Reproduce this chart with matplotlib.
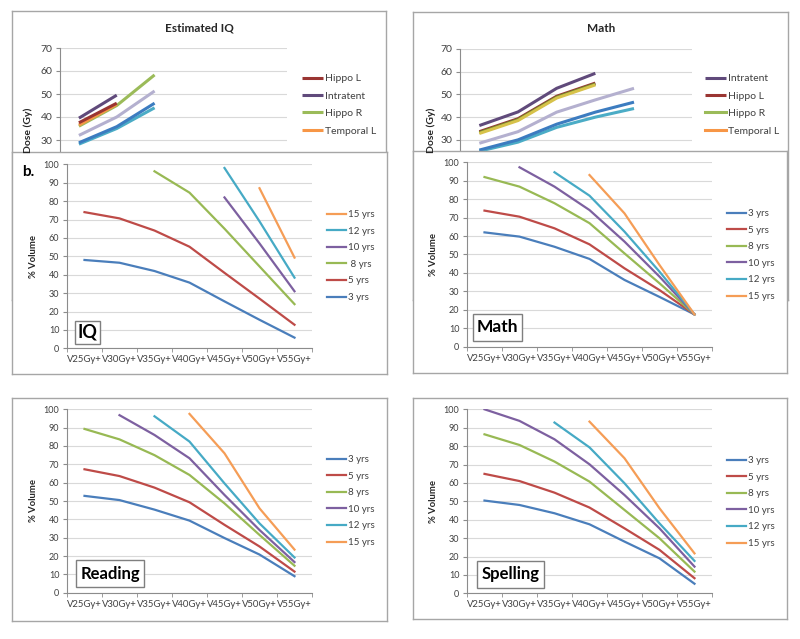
import matplotlib
matplotlib.use('Agg')
import matplotlib.pyplot as plt
import matplotlib.patches as patches
from matplotlib.lines import Line2D
import numpy as np

plt.rcParams['font.family'] = ['Lato', 'DejaVu Sans']

W, H = 800, 639

# ---- top charts: dose (Gy), six hidden categories ----
dose_cats = [0, 1, 2, 3, 4, 5]
iq_hippo_l = [37.5, 46, None, None, None, None]
iq_intratent = [39.5, 49.5, None, None, None, None]
iq_hippo_r = [36, 45, 58.3, None, None, None]
iq_temporal_l = [36.5, 45.5, None, None, None, None]
iq_lavender = [32, 40, 51.3, None, None, None]
iq_blue = [28.8, 35.8, 46, None, None, None]
iq_cyan = [28.2, 35, 44, None, None, None]

math_intratent = [36.3, 42.3, 52.7, 59.3, None, None]
math_hippo_l = [33.6, 39.3, 49.2, 55, None, None]
math_hippo_r = [33.2, 38.9, 48.8, 54.6, None, None]
math_temporal_l = [32.8, 38.5, 48.4, 54.2, None, None]
math_lavender = [28.5, 33.6, 42.2, 47.6, 52.7, None]
math_blue = [25.5, 30, 36.9, 42.2, 46.6, None]
math_cyan = [25, 29, 35.5, 40, 43.8, None]

# ---- % volume charts ----
vol_cats = ['V25Gy+', 'V30Gy+', 'V35Gy+', 'V40Gy+', 'V45Gy+', 'V50Gy+', 'V55Gy+']
ages = ['3 yrs', '5 yrs', '8 yrs', '10 yrs', '12 yrs', '15 yrs']
age_labels_iq = ['3 yrs', '5 yrs', ' 8 yrs', '10 yrs', '12 yrs', '15 yrs']

iq_vol = [
    [48, 46.5, 42, 35.7, 25.5, 15.5, 5.8],
    [74, 70.6, 64, 55.2, 41, 27, 12.8],
    [None, None, 96.2, 84.6, 65, 44.5, 24],
    [None, None, None, None, 82, 57, 31],
    [None, None, None, None, 98, 69, 38.4],
    [None, None, None, None, None, 87, 49.3],
]
math_vol = [
    [62, 59.7, 54.2, 47.6, 36.2, 27, 17.5],
    [73.8, 70.5, 64.2, 55.5, 42.5, 30.7, 17.5],
    [92, 86.8, 77.8, 67, 50.6, 34.4, 17.5],
    [None, 97.3, 86.8, 74.1, 57, 38, 17.5],
    [None, None, 94.6, 81.9, 62.4, 40.7, 17.5],
    [None, None, None, 93.1, 72.3, 44.3, 17.5],
]
reading_vol = [
    [52.8, 50.5, 45.3, 39.3, 29.8, 20.8, 9],
    [67.3, 63.6, 57.3, 49.3, 37, 25.2, 11.5],
    [89.3, 83.6, 75, 64.2, 48.7, 31.5, 14.7],
    [None, 96.8, 86, 73.3, 53.3, 34.2, 16.7],
    [None, None, 96.2, 82.4, 59.6, 37.8, 19.2],
    [None, None, None, 97.5, 76, 46, 23.5],
]
spelling_vol = [
    [50.4, 48, 43.5, 37.5, 28.1, 19, 5.2],
    [64.9, 61, 54.7, 46.6, 35.3, 23.6, 8.2],
    [86.4, 80.6, 71.6, 60.7, 45.3, 29.9, 11.8],
    [100, 93.7, 83.7, 70.1, 53.4, 35.3, 14.5],
    [None, None, 92.8, 79.3, 59.8, 38, 17.6],
    [None, None, None, 93.3, 73.4, 46.2, 21.7],
]

age_colors = ['#4A7EBB', '#BE4B48', '#98B954', '#7D60A0', '#46AAC5', '#F59D56']
GRAY = '#A6A6A6'
TXT = '#404040'


def fr(x0, y0, x1, y1):
    return [x0 / W, 1 - y1 / H, (x1 - x0) / W, (y1 - y0) / H]


def arr(v):
    return np.array(v, dtype=float)


fig = plt.figure(figsize=(W / 100, H / 100), dpi=100)
fig.patch.set_facecolor('white')


def panel_box(rect, z):
    b = fig.add_axes(fr(*rect), zorder=z)
    b.set_xticks([])
    b.set_yticks([])
    for s in b.spines.values():
        s.set_color(GRAY)
        s.set_linewidth(1.0)
    return b


def style_axes(ax, ymax, ticks, fs):
    ax.set_facecolor('none')
    ax.set_ylim(0, ymax)
    ax.set_yticks(ticks)
    ax.grid(axis='y', color='#D9D9D9', linewidth=0.8)
    ax.set_axisbelow(True)
    for s in ['top', 'right']:
        ax.spines[s].set_visible(False)
    for s in ['left', 'bottom']:
        ax.spines[s].set_color('#8C8C8C')
        ax.spines[s].set_linewidth(0.8)
    ax.tick_params(axis='y', length=3, color='#8C8C8C', labelsize=fs, labelcolor=TXT, pad=2.5)


def add_legend(ax, handles, labels, x, y, fs):
    ax.legend(handles, labels, loc='upper left', bbox_to_anchor=(x / W, 1 - y / H),
              bbox_transform=fig.transFigure, frameon=False, fontsize=fs,
              handlelength=2.0, handletextpad=0.2, borderpad=0, borderaxespad=0,
              labelspacing=0.78, labelcolor=TXT)


# ---------------- top-left: Estimated IQ ----------------
panel_box((12, 11, 386, 300), 0)
ax = fig.add_axes(fr(60, 48, 287, 209), zorder=1)
style_axes(ax, 70, [30, 40, 50, 60, 70], 7.5)
ax.set_xlim(-0.5, 5.5)
ax.set_xticks([])
top_iq = [(iq_cyan, '#4BACC6', None), (iq_blue, '#3C7CC0', None),
          (iq_lavender, '#B4B0CF', None), (iq_hippo_r, '#9BBB59', 'Hippo R'),
          (iq_temporal_l, '#F79646', 'Temporal L'), (iq_hippo_l, '#9A3532', 'Hippo L'),
          (iq_intratent, '#604A7B', 'Intratent')]
hd = {}
for vals, col, lab in top_iq:
    ln, = ax.plot(dose_cats, arr(vals), color=col, lw=2.2, solid_capstyle='butt')
    if lab:
        hd[lab] = ln
order = ['Hippo L', 'Intratent', 'Hippo R', 'Temporal L']
add_legend(ax, [hd[k] for k in order], order, 302, 74, 7.5)
fig.text(28 / W, 1 - 130 / H, 'Dose (Gy)', rotation=90, ha='center', va='center',
         fontsize=7.5, fontweight='bold', color='#262626')
fig.text(199 / W, 1 - 28 / H, 'Estimated IQ', ha='center', va='center',
         fontsize=8.5, fontweight='bold', color='#262626')

# ---------------- top-right: Math ----------------
panel_box((413, 12, 788, 300), 0)
ax = fig.add_axes(fr(460, 49, 692, 208), zorder=1)
style_axes(ax, 70, [30, 40, 50, 60, 70], 7.5)
ax.set_xlim(-0.5, 5.5)
ax.set_xticks([])
top_math = [(math_cyan, '#4BACC6', None), (math_blue, '#3C7CC0', None),
            (math_lavender, '#B4B0CF', None), (math_hippo_l, '#9A3532', 'Hippo L'),
            (math_hippo_r, '#6E8B2E', 'Hippo R'), (math_temporal_l, '#D7C24A', 'Temporal L'),
            (math_intratent, '#604A7B', 'Intratent')]
hd = {}
for vals, col, lab in top_math:
    ln, = ax.plot(dose_cats, arr(vals), color=col, lw=2.2, solid_capstyle='butt')
    if lab:
        hd[lab] = ln
hd['Hippo R'] = Line2D([], [], color='#9BBB59', lw=2.2)
hd['Temporal L'] = Line2D([], [], color='#F79646', lw=2.2)
order = ['Intratent', 'Hippo L', 'Hippo R', 'Temporal L']
add_legend(ax, [hd[k] for k in order], order, 705, 74, 7.5)
fig.text(431 / W, 1 - 130 / H, 'Dose (Gy)', rotation=90, ha='center', va='center',
         fontsize=7.5, fontweight='bold', color='#262626')
fig.text(601 / W, 1 - 29 / H, 'Math', ha='center', va='center',
         fontsize=8.5, fontweight='bold', color='#262626')


# ---------------- % volume panels ----------------
def vol_panel(box_rect, plot_rect, series, labels, reverse, leg_xy, tag, tag_rect, tagfs):
    panel_box(box_rect, 2)
    ax = fig.add_axes(fr(*plot_rect), zorder=3)
    style_axes(ax, 100, np.arange(0, 101, 10), 6.5)
    x = np.arange(len(vol_cats))
    ax.set_xlim(-0.5, len(vol_cats) - 0.5)
    ax.set_xticks(x)
    ax.set_xticklabels(vol_cats)
    ax.set_xticks(np.arange(-0.5, len(vol_cats)), minor=True)
    ax.tick_params(axis='x', which='major', length=0, labelsize=6.8, labelcolor=TXT, pad=5)
    ax.tick_params(axis='x', which='minor', length=3, color='#8C8C8C')
    lines = []
    for vals, col in zip(series, age_colors):
        ln, = ax.plot(x, arr(vals), color=col, lw=1.6)
        lines.append(ln)
    labs = list(labels)
    if reverse:
        lines = lines[::-1]
        labs = labs[::-1]
    add_legend(ax, lines, labs, leg_xy[0], leg_xy[1], 7)
    ax.set_ylabel('% Volume', fontsize=6.8, fontweight='bold', color='#262626', labelpad=4)
    x0, y0, x1, y1 = tag_rect
    ax.add_patch(patches.Rectangle((x0 / W, 1 - y1 / H), (x1 - x0) / W, (y1 - y0) / H,
                                   transform=fig.transFigure, facecolor='white',
                                   edgecolor='#7F7F7F', lw=1.0, clip_on=False, zorder=5))
    ax.text((x0 + x1) / 2 / W, 1 - (y0 + y1) / 2 / H, tag, transform=fig.transFigure,
            ha='center', va='center', fontsize=tagfs, fontweight='bold', color='black',
            zorder=6)
    return ax


vol_panel((12, 152, 387, 374), (67, 164.3, 312, 348.3), iq_vol, age_labels_iq, True,
          (327, 210), 'IQ', (75, 321, 100, 344), 13)
fig.text(28 / W, 1 - 172 / H, 'b.', ha='center', va='center', fontsize=11,
         fontweight='bold', color='black', zorder=10)
vol_panel((413, 151, 787, 373), (467, 162.3, 712, 346.7), math_vol, ages, False,
          (727, 209), 'Math', (473, 314, 522, 341), 12.5)
vol_panel((12, 398, 387, 621), (67, 409.3, 312, 592.7), reading_vol, ages, False,
          (327, 455), 'Reading', (76, 560, 144, 587), 12)
vol_panel((413, 398, 787, 619), (467, 409.3, 712, 593.3), spelling_vol, ages, False,
          (727, 456), 'Spelling', (477, 561, 544, 588), 12)

fig.savefig('out.png', dpi=100, facecolor='white')
